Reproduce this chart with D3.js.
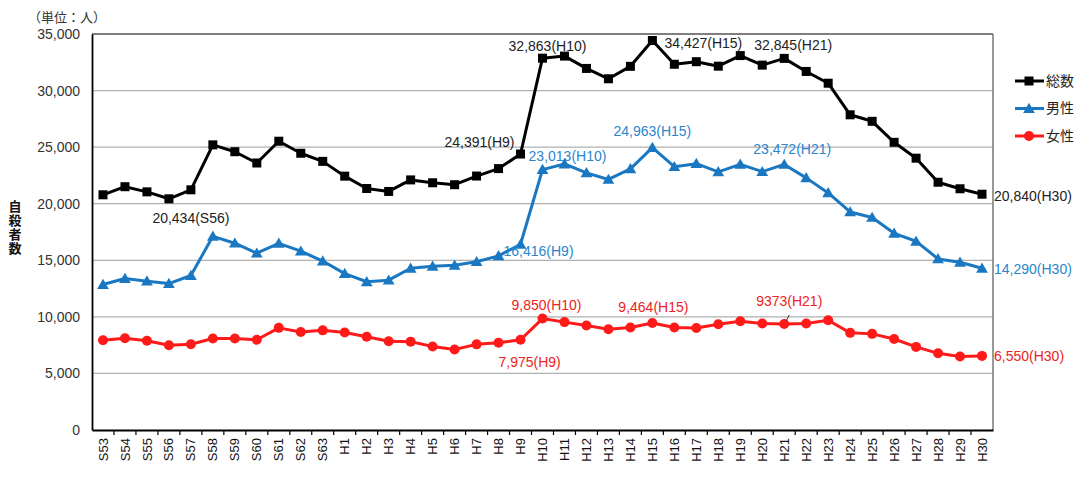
<!DOCTYPE html>
<html><head><meta charset="utf-8">
<script src="https://cdn.jsdelivr.net/npm/d3@7/dist/d3.min.js"></script>
<style>body{margin:0;background:#fff}svg{display:block}</style>
</head><body>
<svg id="c" width="1080" height="490"></svg>
<script>
const categories = ["S53","S54","S55","S56","S57","S58","S59","S60","S61","S62","S63",
"H1","H2","H3","H4","H5","H6","H7","H8","H9","H10","H11","H12","H13","H14","H15","H16","H17","H18","H19","H20",
"H21","H22","H23","H24","H25","H26","H27","H28","H29","H30"];
const total = [20788,21503,21048,20434,21228,25202,24596,23599,25524,24460,23742,
22436,21346,21084,22104,21851,21679,22445,23104,24391,32863,33048,31957,31042,32143,34427,32325,32552,32155,33093,32249,
32845,31690,30651,27858,27283,25427,24025,21897,21321,20840];
const male = [12859,13386,13155,12942,13654,17116,16508,15624,16497,15802,14934,
13818,13102,13242,14296,14468,14560,14874,15393,16416,23013,23512,22727,22144,23080,24963,23272,23540,22813,23478,22831,
23472,22283,20955,19273,18787,17386,16681,15121,14826,14290];
const female = [7929,8117,7893,7492,7574,8086,8088,7975,9027,8658,8808,
8618,8244,7842,7808,7383,7119,7571,7711,7975,9850,9536,9230,8898,9063,9464,9053,9012,9342,9615,9418,
9373,9407,9696,8585,8496,8041,7344,6776,6495,6550];
const yTicks = [0,5000,10000,15000,20000,25000,30000,35000];
const seriesNames = ["総数","男性","女性"];
// annotations: [series index, category, label]
const annotations = [
  [0,"S56","20,434(S56)"],[0,"H9","24,391(H9)"],[0,"H10","32,863(H10)"],[0,"H15","34,427(H15)"],[0,"H21","32,845(H21)"],[0,"H30","20,840(H30)"],
  [1,"H9","16,416(H9)"],[1,"H10","23,013(H10)"],[1,"H15","24,963(H15)"],[1,"H21","23,472(H21)"],[1,"H30","14,290(H30)"],
  [2,"H9","7,975(H9)"],[2,"H10","9,850(H10)"],[2,"H15","9,464(H15)"],[2,"H21","9373(H21)"],[2,"H30","6,550(H30)"]
];

const svg = d3.select("#c");
const L=92,R=993,T=34,B=430;
const x = d3.scaleBand().domain(categories).range([L,R]);
const y = d3.scaleLinear().domain([0,35000]).range([B,T]);
const cx = c => x(c)+x.bandwidth()/2;
const font = "'Liberation Sans', Arial, sans-serif";
const jfont = "'Noto Sans CJK JP', sans-serif";

// grid
svg.append("g").selectAll("line").data(yTicks.filter(d=>d>0 && d<35000)).join("line")
  .attr("x1",L).attr("x2",R).attr("y1",d=>y(d)).attr("y2",d=>y(d))
  .attr("stroke","#b0b0b0").attr("stroke-width",1.3);
// border
svg.append("line").attr("x1",L).attr("x2",R).attr("y1",T).attr("y2",T).attr("stroke","#555").attr("stroke-width",1.5);
svg.append("line").attr("x1",R).attr("x2",R).attr("y1",T).attr("y2",B).attr("stroke","#777").attr("stroke-width",1.5);

// y axis
const yAxis = d3.axisLeft(y).tickValues(yTicks).tickSize(0).tickPadding(12).tickFormat(d3.format(","));
const ya = svg.append("g").attr("transform",`translate(${L},0)`).call(yAxis);
ya.select(".domain").attr("stroke","#000").attr("stroke-width",1.8);
ya.selectAll("text").attr("font-family",font).attr("font-size",14).attr("fill","#333");

// x axis
const xAxis = d3.axisBottom(x).tickSize(0).tickPadding(0);
const xa = svg.append("g").attr("transform",`translate(0,${B})`).call(xAxis);
xa.select(".domain").attr("stroke","#000").attr("stroke-width",1.8);
xa.selectAll(".tick text").attr("font-family",font).attr("font-size",13).attr("fill","#111")
  .attr("transform","rotate(-90)").attr("text-anchor","end").attr("x",-8).attr("y",0).attr("dy","0.35em");
// boundary ticks
svg.append("g").selectAll("line").data(categories.slice(1)).join("line")
  .attr("x1",d=>x(d)).attr("x2",d=>x(d)).attr("y1",B).attr("y2",B+5).attr("stroke","#000").attr("stroke-width",1.2);

// series
const colors = ["#000000","#1a78c2","#ff1a1a"];
const textColors = ["#222","#2a86cc","#ee2222"];
const data = [total,male,female];
const line = d3.line().x((d,i)=>cx(categories[i])).y(d=>y(d));
const tri = d3.symbol().type(d3.symbolTriangle).size(60);
function marker(g, k, px, py){
  if(k===0) g.append("rect").attr("x",px-4.5).attr("y",py-4.5).attr("width",9).attr("height",9).attr("fill",colors[0]);
  else if(k===1) g.append("path").attr("d",tri()).attr("transform",`translate(${px},${py+1})`).attr("fill",colors[1]);
  else g.append("circle").attr("cx",px).attr("cy",py).attr("r",5).attr("fill",colors[2]);
}
data.forEach((vals,k)=>{
  const g = svg.append("g");
  g.append("path").attr("d",line(vals)).attr("fill","none").attr("stroke",colors[k]).attr("stroke-width",3).attr("stroke-linejoin","round");
  vals.forEach((v,i)=>marker(g,k,cx(categories[i]),y(v)));
});

// annotation offsets (dx,dy,anchor) relative to point
const offs = {
  "0S56":[22,19,"middle"],"0H9":[-6,-12,"end"],"0H10":[5,-12,"middle"],"0H15":[51,3,"middle"],"0H21":[9,-13,"middle"],"0H30":[12,2,"start"],
  "1H9":[-17,7,"start"],"1H10":[25,-14,"middle"],"1H15":[0,-16,"middle"],"1H21":[8,-15,"middle"],"1H30":[12,1,"start"],
  "2H9":[-22,22,"start"],"2H10":[4,-13,"middle"],"2H15":[1,-16,"middle"],"2H21":[5,-23,"middle"],"2H30":[12,0,"start"]
};
annotations.forEach(([k,c,t])=>{
  const i = categories.indexOf(c);
  const o = offs[k+c];
  svg.append("text").attr("x",cx(c)+o[0]).attr("y",y(data[k][i])+o[1]).attr("dy","0.35em")
    .attr("text-anchor",o[2]).attr("font-family",font).attr("font-size",14).attr("fill",textColors[k]).text(t);
});
// leader line for 9373(H21)
{
  const i = categories.indexOf("H21");
  const px = cx("H21"), py = y(female[i]);
  svg.append("line").attr("x1",px+5).attr("y1",py-9).attr("x2",px+2).attr("y2",py-3).attr("stroke","#333").attr("stroke-width",1);
}

// legend
seriesNames.forEach((n,k)=>{
  const ly = 81 + k*27.5;
  const g = svg.append("g");
  g.append("line").attr("x1",1015).attr("x2",1044).attr("y1",ly).attr("y2",ly).attr("stroke",colors[k]).attr("stroke-width",3);
  marker(g,k,1029,ly);
  g.append("text").attr("x",1046).attr("y",ly).attr("dy","0.35em").attr("font-family",jfont).attr("font-size",14).attr("fill","#222").text(n);
});

// unit label
svg.append("text").attr("x",28).attr("y",22).attr("font-family",jfont).attr("font-size",13).attr("fill","#333").text("（単位：人）");
// vertical y title
svg.append("text").attr("x",15).attr("y",200).attr("writing-mode","vertical-rl").attr("letter-spacing",1)
  .attr("font-family",jfont).attr("font-size",13).attr("font-weight","bold").attr("fill","#111").text("自殺者数");
</script>
</body></html>
